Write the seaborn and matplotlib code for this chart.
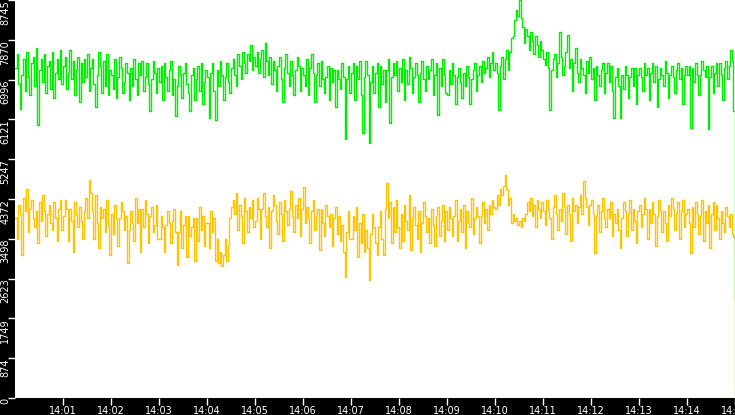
import numpy as np
import pandas as pd
import matplotlib
matplotlib.use("Agg")
import matplotlib.pyplot as plt
import matplotlib.dates as mdates
import seaborn as sns

# one sample every 2 s, 14:00:00 .. 14:15:00 (one row of 30 per minute)
start = "2024-01-01 14:00:00"

green = [
    7250, 7550, 6900, 6350, 7100, 7450, 6750, 7600, 7050, 6650, 7350, 7500, 6850, 7700, 6000, 7200, 7450, 6950, 7550, 6700, 7300, 7400, 6800, 7600, 6600, 7150, 7450, 7000, 7650, 6900,
    7300, 7500, 6800, 7150, 7650, 7000, 7400, 6650, 7200, 7500, 6500, 7350, 6950, 7450, 7050, 7550, 6750, 7250, 7450, 6900, 6400, 7100, 7600, 7300, 6700, 7400, 6850, 7550, 6650, 7200,
    7100, 6800, 7450, 6600, 7050, 7500, 7250, 6700, 6950, 7350, 7150, 6550, 7250, 6850, 7450, 7000, 6650, 7350, 7100, 7400, 6750, 7050, 7350, 6900, 6300, 7000, 7400, 7150, 6700, 7250,
    6950, 7300, 6550, 7350, 7050, 6750, 7200, 7400, 6650, 7000, 6200, 6850, 7300, 7100, 6600, 7150, 7350, 6900, 6700, 6300, 7100, 7250, 6550, 7000, 7300, 6750, 7350, 6450, 6950, 7200,
    7050, 6150, 7150, 7350, 6750, 6100, 7200, 6850, 7400, 7100, 6550, 7050, 7350, 6950, 6700, 7250, 7450, 7100, 6850, 7550, 7300, 7000, 7600, 7350, 7150, 7550, 7400, 7750, 7200, 7500,
    7300, 7600, 7150, 7450, 7650, 7050, 7800, 7400, 7100, 7500, 6900, 7400, 7200, 6750, 7300, 7500, 7000, 6500, 7250, 7550, 7150, 6850, 7400, 7100, 6650, 7200, 7500, 7300, 6750, 7250,
    7100, 6850, 7450, 6650, 7250, 7550, 7150, 6500, 7100, 7350, 6850, 7400, 7000, 6700, 7050, 7300, 6550, 7250, 6950, 7200, 6400, 7200, 7000, 6800, 7350, 7050, 5700, 7000, 7300, 6700,
    7150, 7350, 6550, 7300, 7000, 7400, 6650, 5820, 7050, 7400, 7100, 5600, 6950, 7300, 6700, 7150, 7350, 6400, 7300, 6900, 7200, 6500, 7200, 7450, 6040, 7050, 7350, 7100, 7400, 6750,
    7250, 6950, 7450, 6550, 7200, 6900, 7500, 7250, 6700, 7050, 7350, 7100, 6500, 7150, 7400, 7000, 6750, 7300, 7000, 7200, 7450, 6650, 7100, 7350, 6217, 7250, 6850, 7450, 7100, 6700,
    6650, 7200, 6900, 7350, 7100, 6450, 7050, 7250, 6950, 6600, 7150, 6850, 7300, 7050, 6450, 7000, 7200, 7350, 6750, 7100, 7300, 6950, 7400, 7150, 7250, 7500, 7050, 7350, 7600, 7200,
    7350, 7150, 6330, 7300, 7500, 7000, 7450, 7650, 7200, 7600, 7900, 7950, 8300, 8525, 8400, 8745, 8350, 8150, 7800, 8100, 7950, 7650, 8050, 7850, 7550, 7950, 7750, 7500, 7850, 7650,
    7450, 7315, 7600, 7250, 6325, 7200, 7450, 7550, 7050, 7350, 8040, 7500, 7100, 7300, 7600, 7975, 7250, 7450, 6750, 7350, 7700, 7150, 6950, 7450, 7250, 7100, 6700, 7400, 7150, 7500,
    7000, 7250, 6550, 7300, 7100, 6850, 7200, 7350, 6700, 7150, 7350, 6950, 7300, 6750, 6150, 7050, 7250, 6850, 6150, 7100, 6800, 7300, 7100, 6600, 7050, 7250, 6850, 7250, 6450, 7100,
    7250, 7050, 6750, 7350, 7100, 7250, 6550, 7150, 7350, 6950, 7300, 6400, 7000, 7250, 7100, 6850, 7400, 7150, 6600, 7100, 7300, 7050, 6700, 7200, 7350, 7000, 7250, 6450, 7100, 7300,
    7100, 7300, 5930, 7250, 6950, 7350, 7100, 6650, 7100, 7400, 7200, 7050, 7300, 5910, 7050, 7300, 6700, 7150, 7350, 6850, 7350, 7100, 6550, 7250, 7400, 7000, 7300, 7650, 7400, 6300,
    2150,
]

yellow = [
    3950, 3500, 4250, 4050, 3150, 4400, 4100, 4600, 3650, 4150, 4350, 3950, 3750, 4100, 3400, 4300, 3900, 4450, 4100, 3550, 4050, 4250, 3850, 3700, 4300, 3950, 3450, 4150, 4350, 3700,
    4000, 4350, 4150, 3450, 4150, 3900, 3200, 4300, 4050, 3750, 4200, 3900, 3500, 4100, 4400, 3950, 4790, 4500, 4100, 3500, 4450, 3850, 3300, 4200, 3950, 4150, 3650, 4350, 3800, 3150,
    4050, 3600, 4250, 3950, 3350, 3950, 4300, 4100, 3700, 4000, 2960, 3700, 4100, 3850, 3450, 4400, 3850, 4150, 3200, 4150, 3750, 4350, 4050, 3400, 4000, 4200, 3650, 3800, 4250, 3500,
    3500, 4000, 3750, 3200, 3800, 4100, 3850, 3400, 3900, 4150, 3650, 2920, 3650, 4100, 3300, 3800, 4000, 3100, 4000, 3550, 3750, 3950, 3000, 3950, 3450, 4200, 3700, 4000, 3350, 3850,
    3850, 3300, 4100, 3650, 3950, 3000, 3500, 2960, 3200, 2900, 3150, 3500, 3000, 3350, 3950, 4200, 4350, 4050, 4500, 3700, 4250, 4000, 3400, 4400, 4100, 3650, 4200, 3950, 4350, 3750,
    3900, 4400, 4150, 3500, 4150, 4500, 4000, 3750, 4200, 3300, 4100, 4450, 4250, 3900, 3600, 4300, 4050, 3450, 4350, 4100, 3800, 4150, 4550, 4000, 3650, 4250, 3950, 4400, 3550, 4150,
    4635, 3850, 4200, 3950, 3400, 4100, 4350, 3700, 4000, 4150, 3250, 4150, 3850, 3550, 4250, 4000, 3750, 4050, 3350, 3950, 4200, 3600, 4000, 3450, 3800, 3200, 2660, 3650, 4100, 3500,
    3500, 4000, 3700, 4200, 3100, 3850, 3400, 4050, 3200, 3700, 3300, 2590, 3600, 4050, 3750, 3400, 3140, 3750, 4100, 3500, 3140, 4150, 4720, 3950, 4300, 3400, 4200, 3650, 4350, 3750,
    3300, 4050, 3450, 4250, 3900, 3700, 4450, 3250, 3950, 4200, 3800, 3500, 4100, 3200, 3850, 4300, 4000, 3650, 3950, 3400, 4150, 3800, 3350, 4000, 4200, 3550, 3900, 4250, 3450, 4100,
    3700, 4200, 3950, 3550, 4000, 4350, 3450, 3900, 4150, 3650, 4250, 3300, 4100, 3850, 3750, 4400, 3600, 3950, 4200, 4000, 3400, 4000, 4300, 3850, 4150, 3700, 4250, 4050, 4350, 4200,
    4150, 4450, 4250, 4600, 4450, 4650, 4900, 4600, 4250, 4400, 3850, 4050, 3900, 3950, 3800, 3900, 3750, 3950, 3900, 4050, 4300, 4100, 4400, 4000, 4250, 3750, 4350, 4150, 3950, 4300,
    4100, 3800, 4350, 4150, 3950, 3500, 4200, 4450, 4050, 3700, 4150, 3900, 4500, 4200, 3600, 4250, 4050, 3450, 4400, 4100, 4250, 3850, 4200, 4450, 4050, 4770, 4400, 4200, 3800, 4250,
    4350, 4050, 3185, 4000, 4250, 3650, 4100, 4400, 3950, 3750, 4150, 3950, 4300, 3550, 4050, 3850, 4150, 3700, 3300, 3950, 4300, 4100, 3550, 4050, 4350, 3700, 4150, 3900, 3400, 4100,
    4250, 3750, 4050, 4400, 4150, 3500, 4150, 3850, 4300, 4050, 3350, 4000, 4350, 4100, 3650, 4100, 3850, 3450, 4250, 4000, 4400, 4150, 3700, 4050, 4300, 3500, 4100, 4350, 3750, 4050,
    4150, 3850, 3185, 4200, 3750, 4300, 4050, 3600, 4000, 4350, 3450, 4100, 3850, 4250, 3300, 4050, 4300, 3700, 4250, 3950, 3500, 4100, 3850, 3650, 4200, 4000, 3750, 4050, 3600, 3540,
    0,
]

y_max = 8745

times = pd.date_range(start, periods=len(green), freq="2s")
df = pd.DataFrame({"time": times, "green": green, "yellow": yellow})

fig = plt.figure(figsize=(7.35, 4.15), dpi=100, facecolor="black")
ax = fig.add_axes([15 / 735, 17 / 415, 720 / 735, 398 / 415])
ax.set_facecolor("white")

sns.lineplot(data=df, x="time", y="yellow", ax=ax, color="#ffc400",
             lw=1.0, drawstyle="steps-post", estimator=None)
sns.lineplot(data=df, x="time", y="green", ax=ax, color="#00ee00",
             lw=1.0, drawstyle="steps-post", estimator=None)

ax.set_xlim(times[0], times[-1])
ax.set_ylim(0, y_max)

y_ticks = np.linspace(0, y_max, 11)
ax.set_yticks(y_ticks)
ax.set_yticklabels([str(int(v)) for v in y_ticks], rotation=90, va="top")

x_ticks = pd.date_range("2024-01-01 14:01:00", "2024-01-01 14:15:00", freq="1min")
ax.set_xticks(x_ticks)
ax.xaxis.set_major_formatter(mdates.DateFormatter("%H:%M"))

ax.tick_params(axis="both", colors="white", labelsize=7, length=5,
               width=1, direction="out")
ax.tick_params(axis="y", pad=-1.5)
ax.tick_params(axis="x", pad=1)
ax.set_xlabel("")
ax.set_ylabel("")
for s in ax.spines.values():
    s.set_visible(False)
ax.grid(False)

fig.savefig("out.png", dpi=100, facecolor="black")
